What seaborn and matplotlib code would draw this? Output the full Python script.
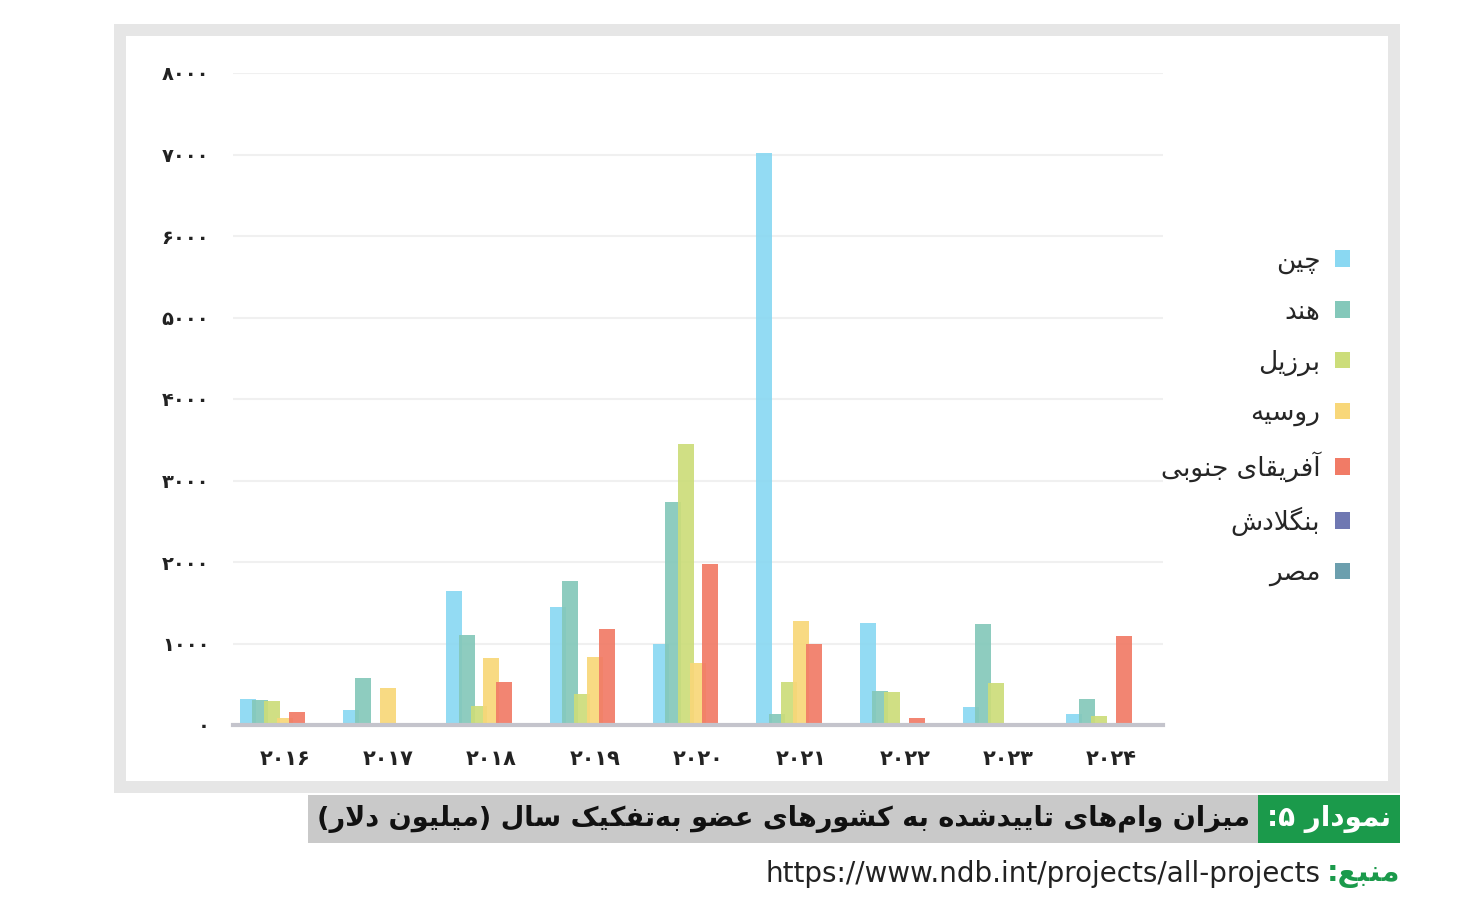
import matplotlib
matplotlib.use("Agg")
import numpy as np
import pandas as pd
import matplotlib.pyplot as plt
from matplotlib.patches import Rectangle
import seaborn as sns

# Chart data (million USD)
YEARS = ["۲۰۱۶", "۲۰۱۷", "۲۰۱۸", "۲۰۱۹", "۲۰۲۰", "۲۰۲۱", "۲۰۲۲", "۲۰۲۳", "۲۰۲۴"]
COUNTRIES = ["چین", "هند", "برزیل", "روسیه", "آفریقای جنوبی", "بنگلادش", "مصر"]
CHINA = [320, 180, 1640, 1450, 1000, 7020, 1250, 220, 140]
INDIA = [310, 580, 1100, 1770, 2740, 140, 420, 1240, 320]
BRAZIL = [290, 0, 230, 380, 3450, 530, 410, 510, 110]
RUSSIA = [90, 450, 820, 830, 760, 1280, 0, 0, 0]
SOUTH_AFRICA = [160, 0, 530, 1180, 1980, 990, 85, 0, 1090]
BANGLADESH = [0, 0, 0, 0, 0, 0, 0, 0, 0]
EGYPT = [0, 0, 0, 0, 0, 0, 0, 0, 0]
Y_TICKS = [0, 1000, 2000, 3000, 4000, 5000, 6000, 7000, 8000]
Y_LABELS = ["۰", "۱۰۰۰", "۲۰۰۰", "۳۰۰۰", "۴۰۰۰", "۵۰۰۰", "۶۰۰۰", "۷۰۰۰", "۸۰۰۰"]
COLORS = ["#8AD8F2", "#84C8BA", "#CCDD7A", "#F8D779", "#F17B66", "#6F78B2", "#6C9FAE"]

TITLE = "میزان وام‌های تاییدشده به کشورهای عضو به‌تفکیک سال (میلیون دلار)"
TITLE_NO = "نمودار ۵:"
SOURCE_LABEL = "منبع:"
SOURCE_URL = "https://www.ndb.int/projects/all-projects"

W, H = 1476, 914

# --- tiny Persian shaper: matplotlib has no Arabic shaping / bidi ---
FORMS = {
    "ا": ("\uFE8D", "\uFE8E", None, None), "آ": ("\uFE81", "\uFE82", None, None),
    "ب": ("\uFE8F", "\uFE90", "\uFE91", "\uFE92"), "پ": ("\uFB56", "\uFB57", "\uFB58", "\uFB59"),
    "ت": ("\uFE95", "\uFE96", "\uFE97", "\uFE98"), "ث": ("\uFE99", "\uFE9A", "\uFE9B", "\uFE9C"),
    "ج": ("\uFE9D", "\uFE9E", "\uFE9F", "\uFEA0"), "چ": ("\uFB7A", "\uFB7B", "\uFB7C", "\uFB7D"),
    "ح": ("\uFEA1", "\uFEA2", "\uFEA3", "\uFEA4"), "خ": ("\uFEA5", "\uFEA6", "\uFEA7", "\uFEA8"),
    "د": ("\uFEA9", "\uFEAA", None, None), "ذ": ("\uFEAB", "\uFEAC", None, None),
    "ر": ("\uFEAD", "\uFEAE", None, None), "ز": ("\uFEAF", "\uFEB0", None, None),
    "ژ": ("\uFB8A", "\uFB8B", None, None),
    "س": ("\uFEB1", "\uFEB2", "\uFEB3", "\uFEB4"), "ش": ("\uFEB5", "\uFEB6", "\uFEB7", "\uFEB8"),
    "ص": ("\uFEB9", "\uFEBA", "\uFEBB", "\uFEBC"), "ض": ("\uFEBD", "\uFEBE", "\uFEBF", "\uFEC0"),
    "ط": ("\uFEC1", "\uFEC2", "\uFEC3", "\uFEC4"), "ظ": ("\uFEC5", "\uFEC6", "\uFEC7", "\uFEC8"),
    "ع": ("\uFEC9", "\uFECA", "\uFECB", "\uFECC"), "غ": ("\uFECD", "\uFECE", "\uFECF", "\uFED0"),
    "ف": ("\uFED1", "\uFED2", "\uFED3", "\uFED4"), "ق": ("\uFED5", "\uFED6", "\uFED7", "\uFED8"),
    "ک": ("\uFB8E", "\uFB8F", "\uFB90", "\uFB91"), "گ": ("\uFB92", "\uFB93", "\uFB94", "\uFB95"),
    "ل": ("\uFEDD", "\uFEDE", "\uFEDF", "\uFEE0"), "م": ("\uFEE1", "\uFEE2", "\uFEE3", "\uFEE4"),
    "ن": ("\uFEE5", "\uFEE6", "\uFEE7", "\uFEE8"), "ه": ("\uFEE9", "\uFEEA", "\uFEEB", "\uFEEC"),
    "و": ("\uFEED", "\uFEEE", None, None), "ی": ("\uFBFC", "\uFBFD", "\uFBFE", "\uFBFF"),
}
LAM_ALEF = {"ا": ("\uFEFB", "\uFEFC"), "آ": ("\uFEF5", "\uFEF6")}


def joins_forward(c):
    return c in FORMS and FORMS[c][2] is not None


def rtl(text):
    out = []
    i = 0
    while i < len(text):
        c = text[i]
        if c not in FORMS:
            if c != "\u200c":
                out.append(c)
            i += 1
            continue
        jp = i > 0 and joins_forward(text[i - 1])
        if c == "ل" and i + 1 < len(text) and text[i + 1] in LAM_ALEF:
            iso, fin = LAM_ALEF[text[i + 1]]
            out.append(fin if jp else iso)
            i += 2
            continue
        jn = joins_forward(c) and i + 1 < len(text) and text[i + 1] in FORMS
        iso, fin, ini, med = FORMS[c]
        out.append(med if jp and jn else fin if jp else ini if jn else iso)
        i += 1
    mirror = {"(": ")", ")": "("}
    return "".join(mirror.get(g, g) for g in out[::-1])


def fx(x):
    return x / W


def fy(y):
    return 1 - y / H


def box(fig, x0, y0, x1, y1, color, z=-5):
    fig.add_artist(Rectangle((fx(x0), fy(y1)), fx(x1) - fx(x0), fy(y0) - fy(y1),
                             transform=fig.transFigure, facecolor=color,
                             edgecolor="none", zorder=z))


def main():
    sns.set_theme(style="white")
    plt.rcParams["font.family"] = ["DejaVu Sans"]

    df = pd.DataFrame({
        "year": YEARS * 7,
        "country": np.repeat(COUNTRIES, len(YEARS)),
        "value": CHINA + INDIA + BRAZIL + RUSSIA + SOUTH_AFRICA + BANGLADESH + EGYPT,
    })

    fig = plt.figure(figsize=(W / 100, H / 100), dpi=100)
    fig.patch.set_facecolor("white")

    # outer frame
    box(fig, 114, 24, 1400, 793, "#e6e6e6", z=-10)
    box(fig, 126, 36, 1388, 781, "white", z=-9)

    ax = fig.add_axes([fx(233), fy(725), fx(1163) - fx(233), fy(73) - fy(725)])
    ax.set_facecolor("none")
    sns.barplot(data=df, x="year", y="value", hue="country", hue_order=COUNTRIES,
                order=YEARS, palette=COLORS, width=0.836, linewidth=0,
                saturation=1, ax=ax, legend=False)

    # bars in the reference overlap a little and are slightly translucent
    for cont in ax.containers:
        for bar in cont:
            cx = bar.get_x() + bar.get_width() / 2
            w = bar.get_width() * 1.3
            bar.set_x(cx - w / 2)
            bar.set_width(w)
            bar.set_alpha(0.92)

    ax.set_xlim(-0.5, 8.5)
    ax.set_ylim(0, 8000)
    ax.set_yticks(Y_TICKS)
    ax.set_yticklabels(Y_LABELS, fontsize=14, fontweight="bold", color="#222222")
    ax.set_xticks(range(len(YEARS)))
    ax.set_xticklabels(YEARS, fontsize=15, fontweight="bold", color="#222222")
    ax.tick_params(axis="y", length=0, pad=17)
    ax.tick_params(axis="x", length=0, pad=17)
    ax.set_xlabel("")
    ax.set_ylabel("")
    ax.yaxis.grid(True, color="#f0f0f0", linewidth=1.5)
    ax.set_axisbelow(True)
    for side in ["left", "right", "top"]:
        ax.spines[side].set_visible(False)
    ax.spines["bottom"].set_color("#c4c4cc")
    ax.spines["bottom"].set_linewidth(3)

    handles = [Rectangle((0, 0), 1, 1, facecolor=c, edgecolor="none") for c in COLORS]
    ax.legend(handles, [rtl(c) for c in COUNTRIES], loc="upper right",
              bbox_to_anchor=(fx(1350), fy(248)), bbox_transform=fig.transFigure,
              frameon=False, markerfirst=False, fontsize=19, handlelength=0.58,
              handleheight=0.58, handletextpad=0.55, labelspacing=0.93,
              borderpad=0, borderaxespad=0)

    # caption bar
    box(fig, 308, 795, 1258, 843, "#c9c9c9")
    box(fig, 1258, 795, 1400, 843, "#1b9a4b")
    fig.text(fx(1250), fy(819), rtl(TITLE), ha="right", va="center",
             fontsize=19.5, fontweight="bold", color="#111111")
    fig.text(fx(1329), fy(819), rtl(TITLE_NO), ha="center", va="center",
             fontsize=20, fontweight="bold", color="white")

    # source line
    fig.text(fx(1400), fy(874), rtl(SOURCE_LABEL), ha="right", va="center",
             fontsize=21, fontweight="bold", color="#1b9a4b")
    fig.text(fx(1320), fy(874), SOURCE_URL, ha="right", va="center",
             fontsize=20, color="#222222")

    fig.savefig("out.png", dpi=100)


if __name__ == "__main__":
    main()
